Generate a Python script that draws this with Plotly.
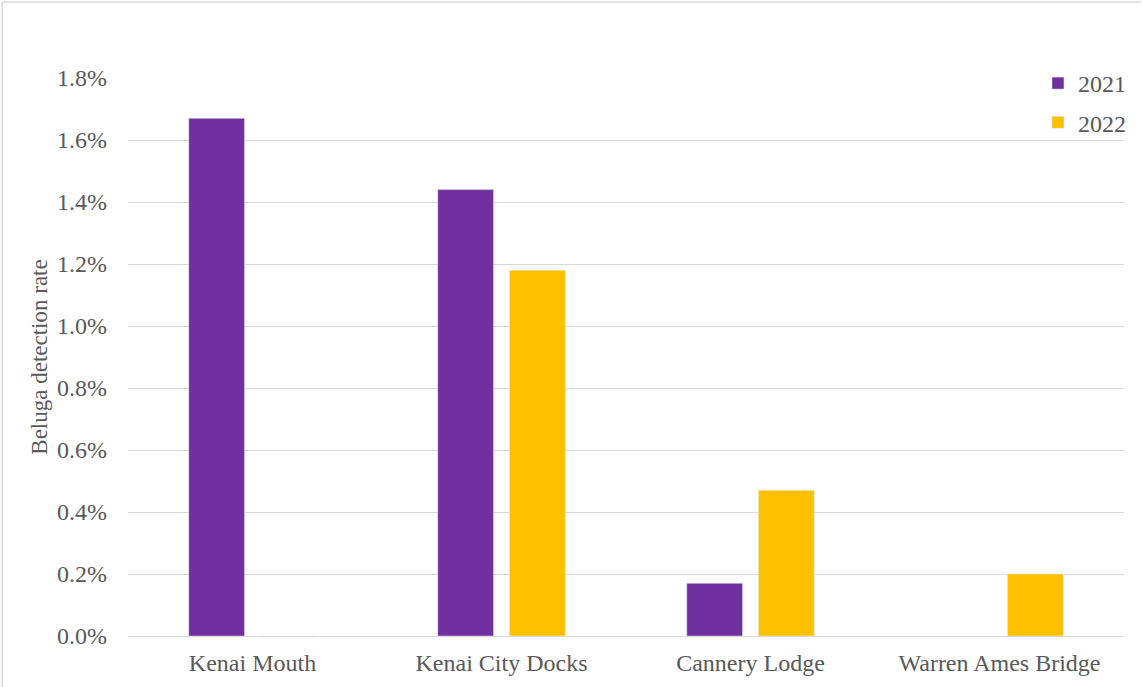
import plotly.graph_objects as go

sites = ["Kenai Mouth", "Kenai City Docks", "Cannery Lodge", "Warren Ames Bridge"]
rate_2021 = [1.67, 1.44, 0.17, 0.0]
rate_2022 = [0.0, 1.18, 0.47, 0.20]
tick_vals = [0.0, 0.2, 0.4, 0.6, 0.8, 1.0, 1.2, 1.4, 1.6, 1.8]
tick_text = ["0.0%", "0.2%", "0.4%", "0.6%", "0.8%", "1.0%", "1.2%", "1.4%", "1.6%", "1.8%"]

serif = "Liberation Serif, Times New Roman, serif"
grey = "#595959"
line_grey = "#D9D9D9"

fig = go.Figure()
fig.add_trace(go.Bar(x=sites, y=rate_2021, name="2021", marker_color="#7030A0",
                     legendgroup="a"))
fig.add_trace(go.Bar(x=sites, y=rate_2022, name="2022", marker_color="#FFC000",
                     legendgroup="b"))

fig.update_layout(
    width=1142, height=687,
    margin=dict(l=128, r=17, t=78, b=51),
    paper_bgcolor="white", plot_bgcolor="white",
    barmode="group", bargap=0.424, bargroupgap=0.222,
    font=dict(family=serif, size=24, color=grey),
    legend=dict(x=1.006, y=1.0 + 17 / 558, xanchor="right", yanchor="top",
                font=dict(size=24, color=grey), tracegroupgap=5,
                itemwidth=30, bgcolor="rgba(0,0,0,0)"),
    xaxis=dict(showgrid=False, showline=False, ticks="", ticklabelstandoff=10,
               tickfont=dict(size=24, color=grey)),
    yaxis=dict(range=[0, 1.8], tickvals=tick_vals, ticktext=tick_text,
               showgrid=True, gridcolor=line_grey, gridwidth=1.3,
               zeroline=True, zerolinecolor=line_grey, zerolinewidth=1.3,
               ticks="", ticklabelstandoff=20,
               tickfont=dict(size=24, color=grey),
               title=dict(text="Beluga detection rate", standoff=2,
                          font=dict(size=23, color=grey))),
    shapes=[
        # thin frame along the top and left edges of the chart area
        dict(type="line", xref="paper", yref="paper",
             x0=-126 / 997, x1=(997 + 17) / 997, y0=(558 + 76) / 558, y1=(558 + 76) / 558,
             line=dict(color=line_grey, width=1.5)),
        dict(type="line", xref="paper", yref="paper",
             x0=-126 / 997, x1=-126 / 997, y0=-51 / 558, y1=(558 + 76) / 558,
             line=dict(color=line_grey, width=1.5)),
    ],
)

fig.write_html("out.html")
